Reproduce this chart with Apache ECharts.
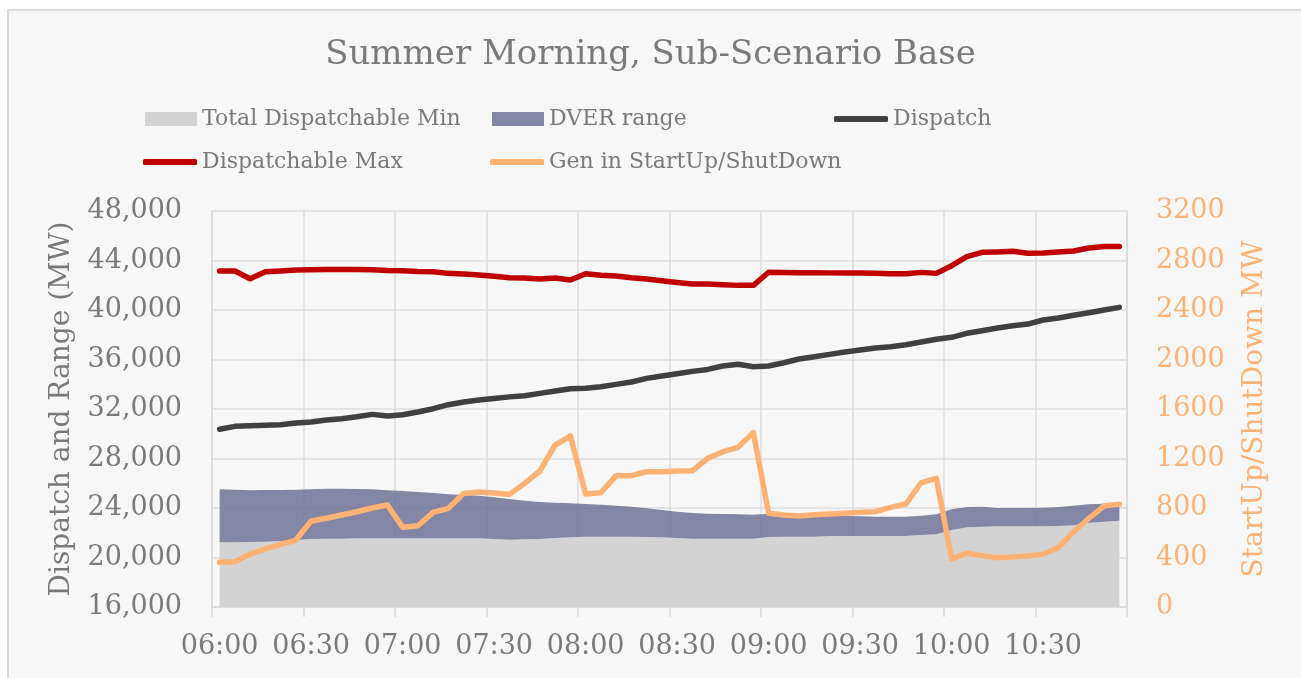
<!DOCTYPE html>
<html>
<head>
<meta charset="utf-8">
<title>Summer Morning, Sub-Scenario Base</title>
<script src="https://cdn.jsdelivr.net/npm/echarts@6.0.0/dist/echarts.min.js"></script>
<style>
  html, body { margin: 0; padding: 0; background: #ffffff; overflow: hidden; }
  #frame {
    position: absolute; left: 7px; top: 9px; width: 1320px; height: 700px;
    background: #f7f7f7; border: 2px solid #d9d9d9; box-sizing: border-box;
  }
  #chart { position: absolute; left: 0; top: 0; width: 1301px; height: 678px; }
</style>
</head>
<body>
<div id="frame"></div>
<div id="chart"></div>
<script>
// 5-minute intervals, 06:00 to 10:55
const times = [
  '06:00','06:05','06:10','06:15','06:20','06:25','06:30','06:35','06:40','06:45','06:50','06:55',
  '07:00','07:05','07:10','07:15','07:20','07:25','07:30','07:35','07:40','07:45','07:50','07:55',
  '08:00','08:05','08:10','08:15','08:20','08:25','08:30','08:35','08:40','08:45','08:50','08:55',
  '09:00','09:05','09:10','09:15','09:20','09:25','09:30','09:35','09:40','09:45','09:50','09:55',
  '10:00','10:05','10:10','10:15','10:20','10:25','10:30','10:35','10:40','10:45','10:50','10:55'
];

// Total dispatchable minimum (MW)
const dispatchableMin = [
  21230, 21230, 21250, 21280, 21340, 21415, 21495, 21525, 21525, 21550, 21550, 21550,
  21550, 21550, 21550, 21550, 21550, 21550, 21495, 21440, 21470, 21495, 21575, 21630,
  21680, 21680, 21680, 21680, 21655, 21630, 21575, 21525, 21525, 21525, 21525, 21525,
  21655, 21680, 21680, 21680, 21735, 21735, 21735, 21735, 21735, 21735, 21815, 21870,
  22220, 22440, 22490, 22520, 22520, 22520, 22520, 22545, 22600, 22810, 22895, 22975
];

// Upper edge of the DVER range (MW)
const dverUpper = [
  25510, 25480, 25430, 25460, 25460, 25480, 25510, 25560, 25560, 25540, 25510, 25430,
  25375, 25295, 25215, 25105, 25050, 25000, 24860, 24725, 24590, 24485, 24430, 24380,
  24320, 24270, 24190, 24110, 23970, 23835, 23700, 23590, 23540, 23515, 23490, 23460,
  23540, 23490, 23435, 23355, 23355, 23355, 23330, 23300, 23300, 23300, 23380, 23490,
  23890, 24080, 24100, 24000, 24000, 24000, 24025, 24080, 24190, 24295, 24350, 24320
];

// Dispatch (MW)
const dispatch = [
  30360, 30600, 30650, 30680, 30730, 30870, 30950, 31110, 31215, 31375, 31565, 31430,
  31540, 31755, 32025, 32350, 32565, 32725, 32850, 32980, 33075, 33265, 33450, 33640,
  33670, 33800, 33990, 34180, 34475, 34665, 34850, 35040, 35200, 35470, 35610, 35415,
  35470, 35740, 36040, 36225, 36415, 36600, 36765, 36925, 37030, 37195, 37410, 37630,
  37790, 38115, 38325, 38545, 38730, 38865, 39190, 39350, 39570, 39780, 40000, 40215
];

// Dispatchable maximum (MW)
const dispatchableMax = [
  43150, 43150, 42530, 43090, 43150, 43230, 43250, 43280, 43280, 43280, 43250, 43200,
  43180, 43120, 43090, 42960, 42900, 42830, 42720, 42600, 42580, 42500, 42580, 42420,
  42930, 42800, 42750, 42610, 42500, 42370, 42230, 42100, 42100, 42050, 41990, 41990,
  43050, 43040, 43020, 43010, 43000, 42990, 42980, 42960, 42930, 42930, 43040, 42960,
  43580, 44310, 44660, 44690, 44740, 44580, 44600, 44690, 44770, 45010, 45140, 45140
];

// Generation in start-up / shut-down (MW, right axis)
const startupShutdown = [
  361, 366, 428, 469, 506, 541, 695, 717, 743, 770, 800, 824,
  644, 657, 765, 797, 918, 929, 921, 910, 999, 1099, 1309, 1382,
  913, 924, 1061, 1061, 1093, 1093, 1099, 1101, 1201, 1255, 1290, 1411,
  757, 743, 735, 745, 751, 757, 765, 770, 805, 832, 1004, 1040,
  388, 434, 415, 398, 406, 412, 428, 479, 608, 717, 818, 830
];

// Stacked band thickness between the minimum and the DVER upper edge
const dverBand = dverUpper.map((v, i) => v - dispatchableMin[i]);

const FONT = '"DejaVu Serif", serif';
const TEXT = '#7a7a7a';
const GRID = '#dcdcdc';
const ORANGE = '#ffb273';
const LINE_W = 5.5;

const legendBase = {
  padding: 0,
  itemWidth: 52,
  itemHeight: 14,
  itemGap: 0,
  selectedMode: false,
  textStyle: { fontFamily: FONT, fontSize: 22, color: TEXT }
};
// Line-series entries use a thin rounded bar as their key
const lineLegend = Object.assign({}, legendBase, { itemWidth: 54, itemHeight: 6 });

const chart = echarts.init(document.getElementById('chart'), null, { renderer: 'canvas' });

chart.setOption({
  animation: false,
  backgroundColor: 'transparent',
  title: {
    text: 'Summer Morning, Sub-Scenario Base',
    left: 'center',
    top: 33,
    textStyle: { fontFamily: FONT, fontSize: 34, fontWeight: 'normal', color: TEXT }
  },
  legend: [
    Object.assign({}, legendBase, { left: 145, top: 108, data: [{ name: 'Total Dispatchable Min', icon: 'rect' }] }),
    Object.assign({}, legendBase, { left: 492, top: 108, data: [{ name: 'DVER range', icon: 'rect' }] }),
    Object.assign({}, lineLegend, { left: 834, top: 108, data: [{ name: 'Dispatch', icon: 'roundRect' }] }),
    Object.assign({}, lineLegend, { left: 143, top: 151, data: [{ name: 'Dispatchable Max', icon: 'roundRect' }] }),
    Object.assign({}, lineLegend, { left: 490, top: 151, data: [{ name: 'Gen in StartUp/ShutDown', icon: 'roundRect' }] })
  ],
  grid: { left: 212, right: 174, top: 211, bottom: 71, containLabel: false },
  xAxis: {
    type: 'category',
    data: times,
    boundaryGap: true,
    axisLine: { show: true, lineStyle: { color: '#d9d9d9', width: 1.5 } },
    axisTick: { show: true, interval: 5, length: 10, lineStyle: { color: '#d9d9d9', width: 1.5 } },
    axisLabel: { interval: 5, margin: 26, fontFamily: FONT, fontSize: 27, color: TEXT },
    splitLine: { show: true, interval: 5, lineStyle: { color: GRID, width: 1.5 } }
  },
  yAxis: [
    {
      type: 'value',
      min: 16000,
      max: 48000,
      interval: 4000,
      name: 'Dispatch and Range (MW)',
      nameLocation: 'middle',
      nameGap: 136,
      nameTextStyle: { fontFamily: FONT, fontSize: 28, color: TEXT },
      axisLine: { show: true, lineStyle: { color: '#d9d9d9', width: 1.5 } },
      axisTick: { show: false },
      axisLabel: {
        margin: 30, fontFamily: FONT, fontSize: 27, color: TEXT,
        formatter: v => v.toLocaleString('en-US')
      },
      splitLine: { show: true, lineStyle: { color: GRID, width: 1.5 } }
    },
    {
      type: 'value',
      min: 0,
      max: 3200,
      interval: 400,
      position: 'right',
      name: 'StartUp/ShutDown MW',
      nameLocation: 'middle',
      nameGap: 114,
      nameTextStyle: { fontFamily: FONT, fontSize: 28, color: ORANGE },
      axisLine: { show: true, lineStyle: { color: '#d9d9d9', width: 1.5 } },
      axisTick: { show: false },
      axisLabel: {
        margin: 29, fontFamily: FONT, fontSize: 27, color: ORANGE,
        formatter: v => String(v)
      },
      splitLine: { show: false }
    }
  ],
  series: [
    {
      name: 'Total Dispatchable Min',
      type: 'line',
      stack: 'band',
      data: dispatchableMin,
      symbol: 'none',
      lineStyle: { width: 0 },
      itemStyle: { color: '#d3d3d3' },
      areaStyle: { color: '#d3d3d3', opacity: 1 },
      z: 1
    },
    {
      name: 'DVER range',
      type: 'line',
      stack: 'band',
      data: dverBand,
      symbol: 'none',
      lineStyle: { width: 0 },
      itemStyle: { color: '#8386a4' },
      areaStyle: { color: 'rgb(118,121,155)', opacity: 0.9 },
      z: 1
    },
    {
      name: 'Dispatch',
      type: 'line',
      data: dispatch,
      symbol: 'none',
      lineStyle: { color: '#404040', width: LINE_W, cap: 'round', join: 'round' },
      itemStyle: { color: '#404040' },
      z: 3
    },
    {
      name: 'Dispatchable Max',
      type: 'line',
      data: dispatchableMax,
      symbol: 'none',
      lineStyle: { color: '#c00000', width: LINE_W, cap: 'round', join: 'round' },
      itemStyle: { color: '#c00000' },
      z: 3
    },
    {
      name: 'Gen in StartUp/ShutDown',
      type: 'line',
      yAxisIndex: 1,
      data: startupShutdown,
      symbol: 'none',
      lineStyle: { color: ORANGE, width: LINE_W, cap: 'round', join: 'round' },
      itemStyle: { color: ORANGE },
      z: 4
    }
  ]
});
</script>
</body>
</html>
